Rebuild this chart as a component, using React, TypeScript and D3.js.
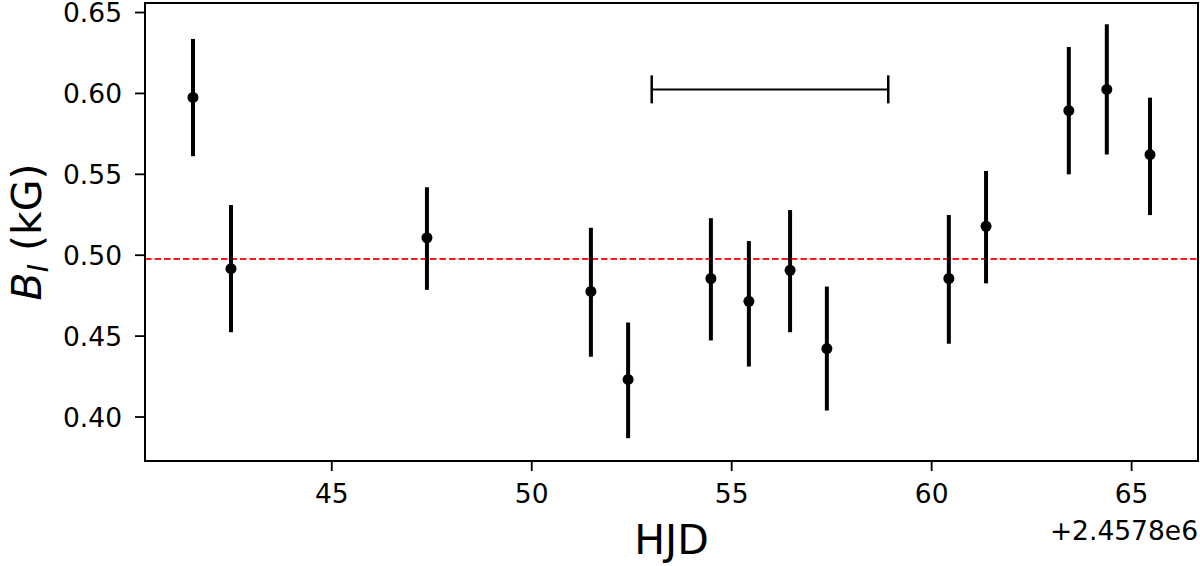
import React from "react";
import * as d3 from "d3";

const hjd = [41.53, 42.48, 47.38, 51.48, 52.41, 54.48, 55.43, 56.46, 57.38, 60.43, 61.36, 63.43, 64.38, 65.46];
const field = [0.5975, 0.4917, 0.5108, 0.4776, 0.4232, 0.4856, 0.4715, 0.4907, 0.4423, 0.4856, 0.5179, 0.5894, 0.6025, 0.5622];
const errUp = [0.6337, 0.531, 0.542, 0.5169, 0.4584, 0.5229, 0.5088, 0.5279, 0.4806, 0.5249, 0.5521, 0.6287, 0.6428, 0.5974];
const errLo = [0.5612, 0.4524, 0.4786, 0.4373, 0.3869, 0.4473, 0.4312, 0.4524, 0.404, 0.4453, 0.4826, 0.55, 0.5622, 0.5248];
const meanField = 0.4977;
const periodBar = { x0: 53.0, x1: 58.915, y: 0.6025 };
const xTicks = [45, 50, 55, 60, 65];
const yTicks = [0.40, 0.45, 0.50, 0.55, 0.60, 0.65];
const xOffsetLabel = "+2.4578e6";

const W = 1200, H = 566;
const L = 145, R = 1198, T = 3, B = 461;

export default function App() {
  const x = d3.scaleLinear().domain([40.33, 66.66]).range([L, R]);
  const y = d3.scaleLinear().domain([0.3728, 0.6559]).range([B, T]);
  const font = "DejaVu Sans, sans-serif";
  return (
    <div style={{ position: "fixed", left: 0, top: 0 }}>
      <svg width={W} height={H} style={{ display: "block", background: "#fff" }} fontFamily={font}>
        {/* mean line */}
        <line x1={L} x2={R} y1={y(meanField)} y2={y(meanField)} stroke="#ff1a1a" strokeWidth={2} strokeDasharray="6.5,3" />
        {/* period bar */}
        <g stroke="#000" strokeWidth={2}>
          <line x1={x(periodBar.x0)} x2={x(periodBar.x1)} y1={y(periodBar.y)} y2={y(periodBar.y)} />
          <line x1={x(periodBar.x0)} x2={x(periodBar.x0)} y1={y(periodBar.y) - 14} y2={y(periodBar.y) + 14} strokeWidth={2.5} />
          <line x1={x(periodBar.x1)} x2={x(periodBar.x1)} y1={y(periodBar.y) - 14} y2={y(periodBar.y) + 14} strokeWidth={2.5} />
        </g>
        {/* error bars and points */}
        {hjd.map((d, i) => (
          <g key={i}>
            <line x1={x(d)} x2={x(d)} y1={y(errUp[i])} y2={y(errLo[i])} stroke="#000" strokeWidth={4} />
            <circle cx={x(d)} cy={y(field[i])} r={5.5} fill="#000" />
          </g>
        ))}
        {/* axes frame */}
        <rect x={L} y={T} width={R - L} height={B - T} fill="none" stroke="#000" strokeWidth={2} />
        {/* x ticks */}
        {xTicks.map((t) => (
          <g key={t}>
            <line x1={x(t)} x2={x(t)} y1={B} y2={B + 10} stroke="#000" strokeWidth={1.8} />
            <text x={x(t)} y={503} textAnchor="middle" fontSize={26.5} fill="#000">{t}</text>
          </g>
        ))}
        <text x={R} y={540} textAnchor="end" fontSize={26.5} fill="#000">{xOffsetLabel}</text>
        {/* y ticks */}
        {yTicks.map((t) => (
          <g key={t}>
            <line x1={L - 10} x2={L} y1={y(t)} y2={y(t)} stroke="#000" strokeWidth={1.8} />
            <text x={122} y={y(t)} dy="0.36em" textAnchor="end" fontSize={26.5} fill="#000">{t.toFixed(2)}</text>
          </g>
        ))}
        {/* axis labels */}
        <text x={(L + R) / 2} y={554} textAnchor="middle" fontSize={41} fill="#000">HJD</text>
        <text transform={`translate(41,${(T + B) / 2}) rotate(-90)`} textAnchor="middle" fontSize={41} fill="#000">
          <tspan fontStyle="italic">B</tspan>
          <tspan fontStyle="italic" fontSize={28} dy={7}>I</tspan>
          <tspan dy={-7}> (kG)</tspan>
        </text>
      </svg>
    </div>
  );
}
